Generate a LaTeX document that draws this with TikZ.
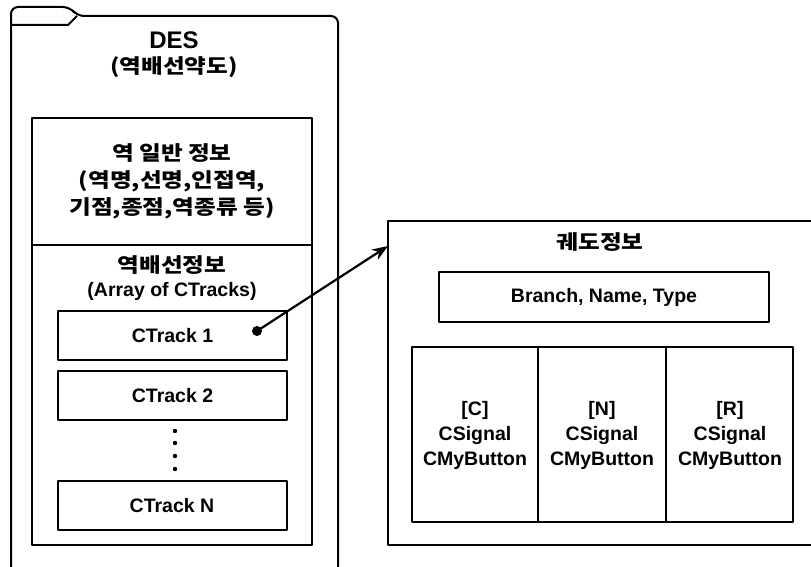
\documentclass[tikz,border=0pt]{standalone}
\usepackage{fontspec}
\setmainfont{Liberation Sans}
\newfontfamily\kr{Noto Sans CJK KR}[FakeStretch=1.18]
\usetikzlibrary{arrows.meta}
\tikzset{
  ln/.style={line width=2pt, line join=round},
  box/.style={ln, draw, rectangle, inner sep=0pt},
  lbl/.style={font=\bfseries\fontsize{19.5}{25}\selectfont, inner sep=0pt, align=center},
  krl/.style={font=\kr\bfseries\fontsize{20}{25}\selectfont, inner sep=0pt, align=center},
  arr/.style={ln, line width=2.2pt, -{Stealth[length=16pt,width=12pt]}},
}
\begin{document}
\begin{tikzpicture}[x=1pt,y=-1pt]
\clip (0,0) rectangle (811,567);
\useasboundingbox (0,0) rectangle (811,567);
\fill[white] (0,0) rectangle (811,567);

% outer folder
\draw[ln, rounded corners=7pt] (11,590) -- (11,7) -- (70,7) -- (77,16) -- (338,16) -- (338,590);
\draw[ln] (11,25) -- (68,25) -- (77,16);
\node[lbl, font=\bfseries\fontsize{24}{28}\selectfont] (des) at (174,40) {DES};
\node[krl] (desk) at (174,67) {(역배선약도)};

% inner box
\node[box, minimum width=280pt, minimum height=427pt] (inner) at (172,331.5) {};
\draw[ln] (32,245) -- (312,245);
\node[krl, font=\kr\bfseries\fontsize{20}{27}\selectfont] (gen) at (172,181) {역 일반 정보\\(역명,선명,인접역,\\기점,종점,역종류 등)};
\node[krl] (trk) at (172,265) {역배선정보};
\node[lbl] (arr) at (172,291) {(Array of CTracks)};

\node[box, minimum width=229pt, minimum height=49pt, lbl] (ct1) at (172.5,335.5) {CTrack 1};
\node[box, minimum width=229pt, minimum height=49pt, lbl] (ct2) at (172.5,395.5) {CTrack 2};
\node[box, minimum width=229pt, minimum height=49pt, lbl] (ctn) at (172,505.5) {CTrack N};
\foreach \yy in {431,443,456,469} \fill (175,\yy) circle (2.2pt);

% right box
\node[box, minimum width=450pt, minimum height=324pt] (rbox) at (613,383) {};
\node[krl] (rt) at (600,242) {궤도정보};
\node[box, minimum width=330pt, minimum height=50pt, lbl] (bnt) at (604,297) {Branch, Name, Type};
\node[box, minimum width=381pt, minimum height=175pt] (sig) at (602.5,434.5) {};
\draw[ln] (538,347) -- (538,522);
\draw[ln] (666,347) -- (666,522);
\node[lbl] (sc) at (475,435) {[C]\\CSignal\\CMyButton};
\node[lbl] (sn) at (602,435) {[N]\\CSignal\\CMyButton};
\node[lbl] (sr) at (730,435) {[R]\\CSignal\\CMyButton};

% connector
\node[circle, fill, inner sep=0pt, minimum size=10pt] (dot) at (257,331) {};
\coordinate (tip) at (388,246);
\draw[arr] (dot.center) -- (tip);
\end{tikzpicture}
\end{document}
